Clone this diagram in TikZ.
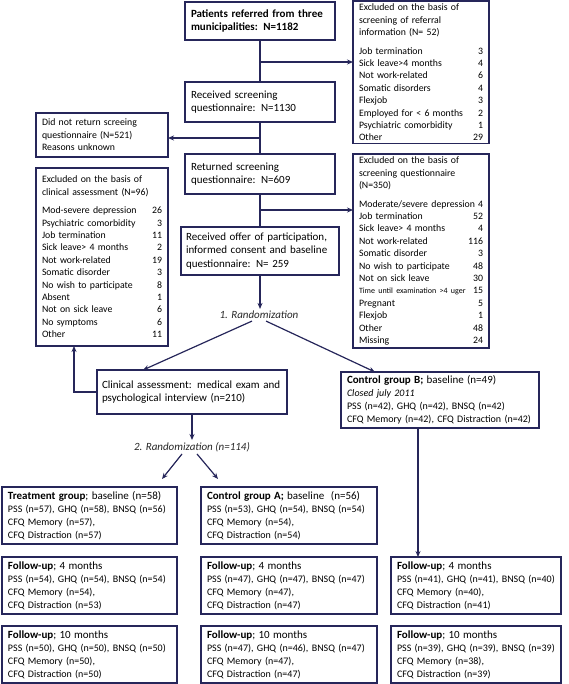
\documentclass[tikz,border=0pt]{standalone}
\usepackage{fontspec}
\setmainfont{Carlito}
\usetikzlibrary{arrows.meta}
\definecolor{navy}{RGB}{38,38,90}
\newcommand\fsmall{\fontsize{9.8}{12.4}\selectfont}
\newcommand\fmain{\fontsize{11}{13.5}\selectfont}
\newcommand\fdata{\fontsize{10}{13}\selectfont}
\newcommand\ftitle{\fontsize{11}{13}\selectfont}
\begin{document}
\begin{tikzpicture}[x=1pt,y=-1pt,
  box/.style={draw=navy, line width=1.2pt, anchor=north west, inner xsep=6pt, inner ysep=3pt,
    align=left, text=black, outer sep=0pt},
  lbl/.style={font=\fmain\itshape, inner sep=2pt, text=black!85},
  arr/.style={draw=navy, line width=1.2pt, -{Stealth[length=6pt,width=5pt]}},
  ln/.style={draw=navy, line width=1.2pt}]
\useasboundingbox (0,0) rectangle (568,684);

% centre column
\node[box, font=\fmain\bfseries, text width=138pt, minimum height=38pt] (pat) at (185,2)
  {Patients referred from three\\municipalities: N=1182};
\node[box, font=\fmain, text width=138pt, minimum height=40pt] (recv) at (185,82)
  {Received screening\\questionnaire: N=1130};
\node[box, font=\fmain, text width=138pt, minimum height=40pt] (ret) at (185,154)
  {Returned screening\\questionnaire: N=609};
\node[box, font=\fmain, inner xsep=5pt, text width=148pt, minimum height=48pt] (offer) at (181,227)
  {Received offer of participation,\\informed consent and baseline\\questionnaire: N= 259};

% right excluded boxes
\node[box, font=\fsmall, text width=124pt, minimum height=142pt] (ex1) at (353,1)
  {Excluded on the basis of\\screening of referral\\information (N= 52)\\[6pt]
   Job termination\hfill 3\\
   Sick leave>4 months\hfill 4\\
   Not work-related\hfill 6\\
   Somatic disorders\hfill 4\\
   Flexjob\hfill 3\\
   Employed for < 6 months\hfill 2\\
   Psychiatric comorbidity\hfill 1\\
   Other\hfill 29};
\node[box, font=\fsmall, text width=124pt, minimum height=190pt] (ex2) at (353,154)
  {Excluded on the basis of\\screening questionnaire\\(N=350)\\[6pt]
   Moderate/severe depression\hfill 4\\
   Job termination\hfill 52\\
   Sick leave> 4 months\hfill 4\\
   Not work-related\hfill 116\\
   Somatic disorder\hfill 3\\
   No wish to participate\hfill 48\\
   Not on sick leave\hfill 30\\
   {\fontsize{8}{12.4}\selectfont Time until examination >4 uger}\hfill 15\\
   Pregnant\hfill 5\\
   Flexjob\hfill 1\\
   Other\hfill 48\\
   Missing\hfill 24};

% left boxes
\node[box, font=\fsmall, text width=120pt, minimum height=44pt] (dnr) at (36,113)
  {Did not return screeing\\questionnaire (N=521)\\Reasons unknown};
\node[box, font=\fsmall, text width=120pt, minimum height=178pt] (exc) at (36,168)
  {Excluded on the basis of\\clinical assessment (N=96)\\[6pt]
   Mod-severe depression\hfill 26\\
   Psychiatric comorbidity\hfill 3\\
   Job termination\hfill 11\\
   Sick leave> 4 months\hfill 2\\
   Not work-related\hfill 19\\
   Somatic disorder\hfill 3\\
   No wish to participate\hfill 8\\
   Absent\hfill 1\\
   Not on sick leave\hfill 6\\
   No symptoms\hfill 6\\
   Other\hfill 11};

% randomization
\node[lbl] (rand1) at (259,315) {1. Randomization};
\node[box, font=\fmain, inner xsep=5pt, text width=180pt, minimum height=44pt] (clin) at (97,370)
  {Clinical assessment: medical exam and\\psychological interview (n=210)};
\node[lbl] (rand2) at (192,447) {2. Randomization (n=114)};

\node[box, font=\fdata, inner ysep=2pt, text width=186pt, minimum height=56pt] (ctrlB) at (341,372)
  {{\ftitle\textbf{Control group B;} baseline (n=49)}\\\textit{Closed july 2011}\\
   PSS (n=42), GHQ (n=42), BNSQ (n=42)\\CFQ Memory (n=42), CFQ Distraction (n=42)};

% bottom rows
\node[box, font=\fdata, text width=163pt, minimum height=57pt] (treat) at (2,487)
  {{\ftitle\textbf{Treatment group}; baseline (n=58)}\\PSS (n=57), GHQ (n=58), BNSQ (n=56)\\CFQ Memory (n=57),\\CFQ Distraction (n=57)};
\node[box, font=\fdata, text width=164pt, minimum height=57pt] (ctrlA) at (201,487)
  {{\ftitle\textbf{Control group A;} baseline\ \ (n=56)}\\PSS (n=53), GHQ (n=54), BNSQ (n=54)\\CFQ Memory (n=54),\\CFQ Distraction (n=54)};

\node[box, font=\fdata, text width=163pt, minimum height=57pt] (fua) at (2,557)
  {{\ftitle\textbf{Follow-up}; 4 months}\\PSS (n=54), GHQ (n=54), BNSQ (n=54)\\CFQ Memory (n=54),\\CFQ Distraction (n=53)};
\node[box, font=\fdata, text width=164pt, minimum height=57pt] (fub) at (201,557)
  {{\ftitle\textbf{Follow-up}; 4 months}\\PSS (n=47), GHQ (n=47), BNSQ (n=47)\\CFQ Memory (n=47),\\CFQ Distraction (n=47)};
\node[box, font=\fdata, text width=158pt, minimum height=57pt] (fuc) at (391,557)
  {{\ftitle\textbf{Follow-up}; 4 months}\\PSS (n=41), GHQ (n=41), BNSQ (n=40)\\CFQ Memory (n=40),\\CFQ Distraction (n=41)};

\node[box, font=\fdata, text width=163pt, minimum height=57pt] (fta) at (2,626)
  {{\ftitle\textbf{Follow-up}; 10 months}\\PSS (n=50), GHQ (n=50), BNSQ (n=50)\\CFQ Memory (n=50),\\CFQ Distraction (n=50)};
\node[box, font=\fdata, text width=164pt, minimum height=57pt] (ftb) at (201,626)
  {{\ftitle\textbf{Follow-up}; 10 months}\\PSS (n=47), GHQ (n=46), BNSQ (n=47)\\CFQ Memory (n=47),\\CFQ Distraction (n=47)};
\node[box, font=\fdata, text width=158pt, minimum height=57pt] (ftc) at (391,626)
  {{\ftitle\textbf{Follow-up}; 10 months}\\PSS (n=39), GHQ (n=39), BNSQ (n=39)\\CFQ Memory (n=38),\\CFQ Distraction (n=39)};

% connectors
\coordinate (j1) at (260,62);
\coordinate (j2) at (260,138);
\coordinate (j3) at (260,210);
\coordinate (ta) at (162,479);
\coordinate (ca) at (218,479);
\draw[ln] (pat.south) -- (recv.north);
\draw[ln] (recv.south) -- (ret.north);
\draw[ln] (ret.south) -- (offer.north);
\draw[arr] (j1) -- (j1 -| ex1.west);
\draw[arr] (j2) -- (j2 -| dnr.east);
\draw[arr] (j3) -- (j3 -| ex2.west);
\draw[arr] (offer.south) -- (offer.south |- rand1.north);
\draw[arr] ([xshift=-7pt]rand1.south) -- ([xshift=46pt]clin.north west);
\draw[arr] ([xshift=7pt]rand1.south) -- ([xshift=34pt]ctrlB.north west);
\draw[arr] (clin.west) -| ([xshift=38pt]exc.south west);
\draw[arr] (clin.south) -- (clin.south |- rand2.north);
\draw[arr] ([xshift=-10pt]rand2.south) -- (ta);
\draw[arr] ([xshift=5pt]rand2.south) -- (ca);
\draw[arr] ([xshift=77pt]ctrlB.south west) -- ([xshift=77pt]ctrlB.south west |- fuc.north);
\end{tikzpicture}
\end{document}
